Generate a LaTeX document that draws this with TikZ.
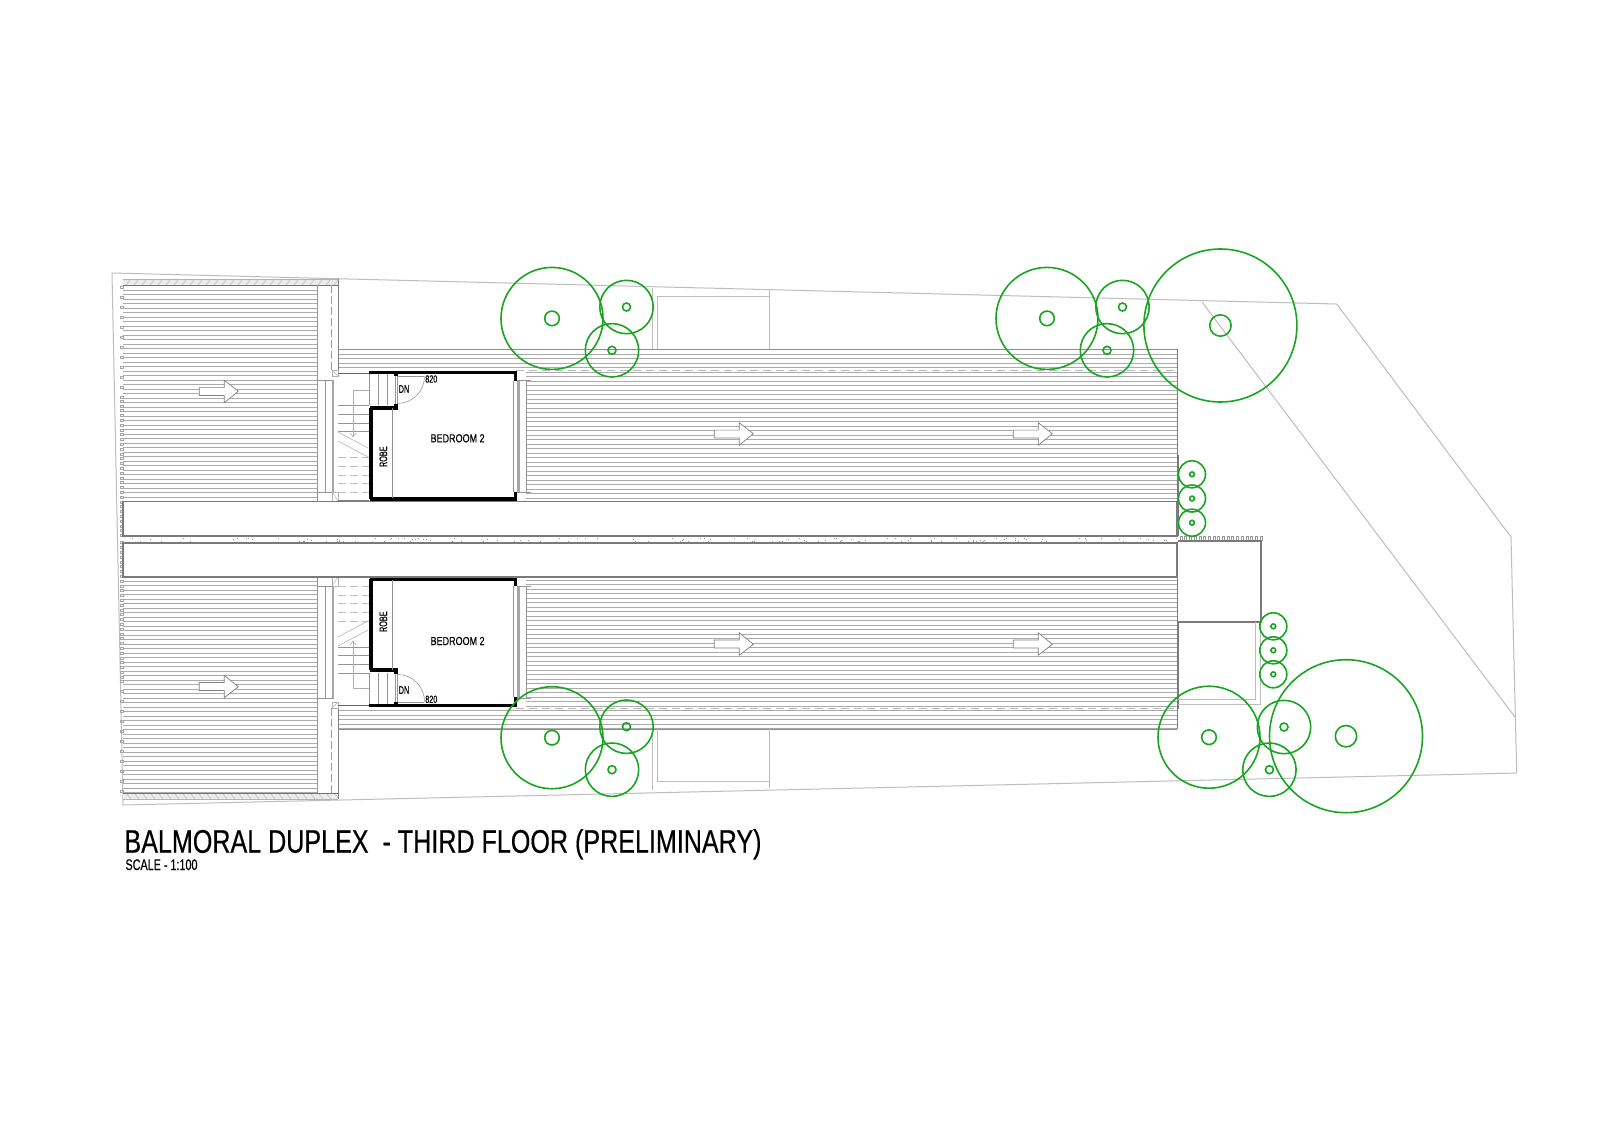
\documentclass[tikz,border=0pt]{standalone}
\usepackage{fontspec}
\setmainfont[FakeBold=0.5]{Liberation Sans}
\definecolor{tree}{RGB}{25,165,35}
\tikzset{
  x=0.5pt,y=-0.5pt,
  roofline/.style={draw=black!33,line width=0.3pt},
  thinline/.style={draw=black!42,line width=0.28pt},
  siteline/.style={draw=black!26,line width=0.5pt},
  heavy/.style={draw=black!52,line width=0.75pt},
  wall/.style={draw=black,line width=1.7pt},
  dashline/.style={draw=black!28,line width=0.35pt,dash pattern=on 4pt off 2.5pt},
  flowarrow/.style={draw=black!50,fill=white,line width=0.35pt},
  treeline/.style={draw=tree,line width=0.8pt},
  label/.style={inner sep=0pt,outer sep=0pt,text=black},
}
\newcommand{\tree}[5]{%
  \draw[treeline] (#1,#2) circle[radius=#3*0.5pt];
  \draw[treeline] (#1,#2) circle[radius=#4*0.5pt];
}
\newcommand{\flowmark}[2]{% x of shaft start, y of axis
  \draw[flowarrow] (#1,#2-3.4) -- ++(25,0) -- ++(0,-7.3) -- ++(14,10.9) -- ++(-14,11.5) -- ++(0,-7.2) -- ++(-25,0) -- cycle;
}
\newcommand{\halfplan}{%
  % left roof and main roof boards
  \foreach \yy in {285.5,290,...,501} \draw[roofline] (123,\yy) -- (317,\yy);
  \foreach \yy in {349.5,354,...,370} \draw[roofline] (338,\yy) -- (1177,\yy);
  \foreach \yy in {372,376.5,...,501} \draw[roofline] (526,\yy) -- (1177,\yy);
  \draw[dashline] (516,370) -- (1177,370);
  % hatched parapet band
  \fill[black!8] (123,279) rectangle (338,285);
  \foreach \xx in {126,134,...,336} \draw[black!25,line width=0.3pt] (\xx,285) -- (\xx+5,279);
  \draw[black!30,line width=0.28pt] (123,279) -- (338,279);
  \draw[black!55,line width=0.4pt] (123,285) -- (338,285);
  % left edge ticks
  \foreach \yy in {286,296,...,396} \draw[black!35,line width=0.25pt] (120,\yy) rectangle (123,\yy+2);
  \foreach \yy in {400,404.8,...,536} \draw[black!35,line width=0.25pt] (120,\yy) rectangle (123,\yy+2);
  % column strip
  \draw[thinline] (317,285) -- (317,501);
  \draw[black!50,line width=0.4pt] (338,279) -- (338,372);
  \draw[black!38,line width=0.28pt,dash pattern=on 4pt off 1.5pt] (331.7,285) -- (331.7,370);
  \draw[thinline] (317,380) -- (334,380);
  \draw[thinline] (317,492) -- (334,492);
  \draw[thinline] (325,380) -- (325,492);
  \fill[black!35] (331.5,380) rectangle (333.5,492);
  \draw[black!30,line width=0.25pt] (332,370) rectangle (338,376);
  \draw[black!30,line width=0.25pt] (332,370) -- (338,376);
  \draw[black!30,line width=0.25pt] (332,492) rectangle (338,501);
  \draw[black!30,line width=0.25pt] (332,492) -- (338,501);
  % main roof top edge and box above it
  \draw[black!45,line width=0.45pt] (338,349) -- (1177,349);
  \draw[heavy] (1177.5,349) -- (1177.5,501);
  \draw[siteline] (652,288) -- (652,349);
  \draw[siteline] (657.7,349) -- (657.7,296.7) -- (769,296.7);
  \draw[siteline] (769,290) -- (769,349);
  % stairs
  \draw[black!60,line width=0.3pt] (338,373) -- (369,373);
  \foreach \xx in {378,387,395} \draw[thinline] (\xx,373) -- (\xx,405);
  \draw[thinline] (369,373) -- (369,405);
  \foreach \yy in {405,414,423,431} \draw[thinline] (338,\yy) -- (369,\yy);
  \foreach \yy in {457,466,475,483,492} \draw[black!26,line width=0.3pt,dash pattern=on 4pt off 2pt] (338,\yy) -- (369,\yy);
  \draw[black!28,line width=0.3pt] (338,432) -- (368,448);
  \draw[black!28,line width=0.3pt] (338,441) -- (368,457);
  \draw[black!32,line width=0.28pt] (369,390) -- (353,390) -- (353,437);
  \draw[black!32,line width=0.28pt] (350,433) -- (353,437) -- (356,433);
  % bedroom
  \draw[wall] (369,372.5) -- (516.5,372.5);
  \draw[wall] (371,408) -- (371,499);
  \draw[wall] (369.5,408) -- (397.5,408);
  \draw[wall] (369.5,499) -- (516.5,499);
  \draw[wall] (515.5,372) -- (515.5,381);
  \draw[wall] (515.5,492) -- (515.5,500);
  \draw[wall] (396,372) -- (396,376);
  \draw[wall] (396,404) -- (396,408);
  \draw[black!50,line width=0.5pt] (338,500.5) -- (369,500.5);
  \draw[thinline] (392.7,408) -- (392.7,498);
  % door
  \draw[thinline] (397.5,376) -- (397.5,404);
  \draw[thinline] (397.5,376) -- (424,376);
  \draw[thinline] (397.5,403.5) arc[start angle=-90,end angle=0,radius=13.5pt];
  % right sliding door
  \draw[thinline] (513.3,381) -- (513.3,492);
  \fill[black!35] (517,380) rectangle (519.5,492);
  \draw[thinline] (526,380) -- (526,492);
  \draw[thinline] (517,380) -- (531,380);
  \draw[thinline] (517,492) -- (531,492);
  % flow arrows
  \flowmark{199.3}{391}
  \flowmark{714.3}{433.5}
  \flowmark{1013.3}{433.5}
}
\begin{document}
\begin{tikzpicture}
\useasboundingbox (0,0) rectangle (1600,1130);
\fill[white] (0,0) rectangle (1600,1130);
% site boundary
\draw[siteline] (112,273) -- (1336.7,304) -- (1511,537) -- (1516.7,773) -- (123,805) -- cycle;
\draw[siteline] (1202,302) -- (1515,717);
% the two mirrored dwellings
\begin{scope}\halfplan\end{scope}
\begin{scope}[shift={(0,1078)},yscale=-1]\halfplan\end{scope}
% central party wall bands
\draw[heavy] (123,501.5) rectangle (1177,536);
\draw[heavy] (123,543) rectangle (1177,577);
\pgfmathsetseed{17}
\foreach \i in {1,...,130}{
  \pgfmathsetmacro{\sx}{123+rnd*1054}
  \pgfmathsetmacro{\sy}{537.5+rnd*4}
  \fill[black!40] (\sx,\sy) rectangle +(1,1);
}
% right hand structures
\draw[heavy] (1178.5,455) -- (1178.5,536);
\draw[heavy] (1178.5,622) -- (1178.5,709);
\foreach \xx in {1180,1184.7,...,1260} \draw[black!40,line width=0.28pt] (\xx,536) rectangle (\xx+2,540);
\draw[heavy] (1178,541) -- (1261,541) -- (1261,622) -- (1178,622);
\draw[siteline] (1255,622) -- (1255,699) -- (1178,699);
\draw[siteline] (1260,622) -- (1260,704.7) -- (1178,704.7);
% trees
\tree{552}{318.4}{51}{7.3}{}
\tree{626.5}{307}{26.7}{4}{}
\tree{612}{350.3}{26.7}{4}{}
\tree{1047}{318.4}{51}{7.3}{}
\tree{1122.5}{307}{26.7}{4}{}
\tree{1107}{350.3}{26.7}{4}{}
\tree{1220.4}{325.5}{76.5}{10.7}{}
\tree{1192}{474.3}{13.5}{2.4}{}
\tree{1192}{498.5}{13.5}{2.4}{}
\tree{1192}{522.7}{13.5}{2.4}{}
\tree{1273.3}{626.3}{13.5}{2.4}{}
\tree{1273.3}{650.3}{13.5}{2.4}{}
\tree{1273.3}{674.3}{13.5}{2.4}{}
\tree{552}{737.7}{51}{7.3}{}
\tree{626.5}{726.7}{26.7}{4}{}
\tree{612}{769.7}{26.7}{4}{}
\tree{1209}{737.2}{51}{7.3}{}
\tree{1284}{727}{26.7}{4}{}
\tree{1269.4}{769.7}{26.7}{4}{}
\tree{1346}{736.2}{76.5}{10.7}{}
% labels
\node[label,anchor=base west] (title) at (124.5,852.7) {\resizebox{318.5pt}{\height}{\fontsize{16.3pt}{18pt}\selectfont BALMORAL DUPLEX\ \ - THIRD FLOOR (PRELIMINARY)}};
\node[label,anchor=base west] (scale) at (125.5,870) {\resizebox{36pt}{\height}{\fontsize{7.7pt}{9pt}\selectfont SCALE - 1:100}};
\node[label] (bedA) at (457.6,438.3) {\resizebox{27pt}{\height}{\fontsize{5.8pt}{7pt}\selectfont BEDROOM 2}};
\node[label] (bedB) at (457.6,641) {\resizebox{27pt}{\height}{\fontsize{5.8pt}{7pt}\selectfont BEDROOM 2}};
\node[label,rotate=90] (robeA) at (383.3,456.7) {\resizebox{10.3pt}{\height}{\fontsize{5.5pt}{7pt}\selectfont ROBE}};
\node[label,rotate=90] (robeB) at (383.3,621.7) {\resizebox{10.3pt}{\height}{\fontsize{5.5pt}{7pt}\selectfont ROBE}};
\node[label] (dnA) at (404,389) {\resizebox{5.3pt}{\height}{\fontsize{5.5pt}{7pt}\selectfont DN}};
\node[label] (dnB) at (404,690) {\resizebox{5.3pt}{\height}{\fontsize{5.5pt}{7pt}\selectfont DN}};
\node[label] (doorA) at (431.3,379) {\resizebox{6pt}{\height}{\fontsize{5.2pt}{7pt}\selectfont 820}};
\node[label] (doorB) at (431.3,699.3) {\resizebox{6pt}{\height}{\fontsize{5.2pt}{7pt}\selectfont 820}};
\end{tikzpicture}
\end{document}
